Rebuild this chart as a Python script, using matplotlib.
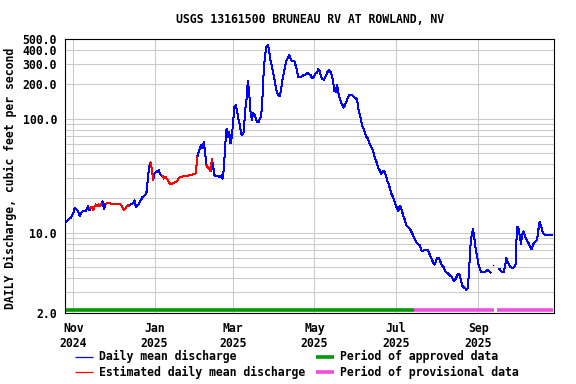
import numpy as np
import pandas as pd
import matplotlib
matplotlib.use('Agg')
import matplotlib.pyplot as plt
import matplotlib.transforms as mtransforms
from matplotlib.lines import Line2D

# Datos (caudal medio diario, cfs), desde 2024-10-26
start_date = '2024-10-26'
discharge = [
    12.2, 12.6, 13.0, 13.3, 13.5, 14.2, 14.8, 16.5, 16.2, 15.9,
    15.0, 14.0, 15.0, 15.4, 15.4, 15.4, 16.0, 17.1, 15.7, 16.5,
    17.0, 15.9, 17.0, 17.7, 17.1, 17.7, 17.1, 17.9, 18.9, 16.0,
    17.8, 18.0, 18.4, 18.2, 18.0, 18.0, 18.0, 18.0, 18.0, 18.0,
    18.0, 18.0, 17.4, 16.5, 15.9, 16.3, 17.0, 17.4, 17.2, 17.7,
    17.8, 18.4, 19.2, 16.8, 17.4, 17.7, 18.6, 19.5, 20.6, 21.0,
    21.5, 22.8, 30.0, 38.4, 41.4, 36.0, 29.0, 33.0, 34.0, 34.5,
    35.4, 32.8, 32.0, 31.5, 29.9, 31.0, 29.9, 28.9, 27.6, 26.5,
    27.0, 27.2, 27.6, 28.0, 28.3, 29.9, 31.0, 31.0, 31.2, 31.3,
    31.3, 31.5, 31.7, 32.0, 32.0, 32.3, 32.5, 32.8, 33.1, 46.0,
    51.0, 55.0, 58.7, 55.0, 63.0, 50.0, 39.2, 37.1, 36.6, 34.7,
    44.3, 37.8, 32.0, 31.3, 31.8, 31.3, 30.9, 31.8, 29.9, 36.0,
    58.7, 81.5, 69.5, 76.9, 60.8, 70.0, 95.0, 127.9, 132.4, 115.0,
    97.6, 88.1, 73.0, 72.5, 76.9, 120.0, 146.6, 215.0, 167.8, 115.0,
    97.6, 111.8, 108.0, 100.0, 94.2, 93.0, 100.0, 104.4, 156.6, 270.0,
    365.0, 430.0, 445.0, 395.0, 322.5, 291.7, 255.0, 219.6, 190.0, 167.8,
    162.2, 156.6, 180.0, 219.6, 251.6, 290.0, 322.5, 341.6, 359.7, 340.0,
    318.0, 322.0, 318.0, 290.0, 260.0, 230.0, 230.0, 233.0, 236.0, 243.0,
    243.0, 247.0, 251.6, 245.0, 243.0, 227.5, 230.0, 240.0, 250.0, 255.0,
    272.7, 260.0, 232.0, 222.0, 219.6, 230.0, 243.0, 260.0, 269.0, 258.0,
    243.0, 212.0, 175.0, 173.0, 198.6, 167.8, 151.7, 137.0, 132.4, 125.3,
    132.0, 141.6, 151.7, 159.9, 162.0, 162.0, 158.0, 153.4, 151.7, 146.6,
    122.0, 109.6, 96.0, 86.0, 81.2, 74.0, 69.5, 67.3, 62.0, 58.7,
    55.6, 52.0, 46.8, 43.4, 40.5, 36.6, 35.4, 33.0, 34.2, 34.9,
    33.8, 30.5, 27.9, 26.1, 23.5, 21.6, 20.6, 18.9, 17.4, 16.5,
    15.4, 17.2, 16.5, 15.0, 13.8, 12.8, 11.6, 11.3, 11.0, 10.6,
    10.1, 9.5, 9.0, 8.5, 8.1, 7.9, 7.8, 7.1, 6.9, 7.0,
    7.0, 7.0, 7.1, 6.7, 6.2, 5.9, 5.5, 5.26, 5.5, 6.0,
    6.05, 5.8, 5.4, 5.15, 4.98, 4.6, 4.5, 4.45, 4.3, 4.2,
    4.12, 3.86, 3.8, 3.95, 4.2, 4.35, 4.3, 3.8, 3.44, 3.32,
    3.28, 3.16, 3.27, 4.5, 7.5, 9.5, 10.8, 9.0, 7.2, 6.3,
    5.3, 4.9, 4.5, 4.5, 4.5, 4.55, 4.65, 4.7, 4.6, 4.5,
    np.nan, 5.26, np.nan, np.nan, np.nan, np.nan, 4.8, 4.6, 4.5, 4.5,
    5.0, 5.97, 5.6, 5.2, 5.05, 4.98, 4.9, 5.05, 5.3, 11.2,
    11.3, 9.5, 8.0, 9.7, 10.3, 9.3, 8.8, 8.4, 8.0, 7.5,
    7.2, 7.8, 8.2, 8.4, 8.6, 10.5, 12.4, 11.6, 10.3, 9.8,
    9.5, 9.5, 9.6, 9.5, 9.5, 9.5,
]

# Periodos con valores estimados (rojo)
estimated_periods = [
    ('2024-11-14', '2024-11-22'),
    ('2024-11-26', '2024-12-13'),
    ('2024-12-29', '2024-12-31'),
    ('2025-01-07', '2025-01-11'),
    ('2025-01-12', '2025-02-02'),
    ('2025-02-09', '2025-02-13'),
]

approved_periods = [('2024-10-26', '2025-07-15')]
provisional_periods = [('2025-07-15', '2025-09-13'), ('2025-09-15', '2025-10-27')]

x_ticks = ['2024-11-01', '2025-01-01', '2025-03-01', '2025-05-01', '2025-07-01', '2025-09-01']
x_labels = ['Nov\n2024', 'Jan\n2025', 'Mar\n2025', 'May\n2025', 'Jul\n2025', 'Sep\n2025']
y_labeled = [2.0, 10.0, 100.0, 200.0, 300.0, 400.0, 500.0]
y_minor = [3, 4, 5, 6, 7, 8, 9, 20, 30, 40, 50, 60, 70, 80, 90]

fuente = dict(family='DejaVu Sans Mono', weight='bold', size=8.3)

fechas = pd.date_range(start_date, periods=len(discharge), freq='D')
serie = pd.Series(discharge, index=fechas)

# Serie estimada
estimada = pd.Series(np.nan, index=fechas)
for ini, fin in estimated_periods:
    estimada[ini:fin] = serie[ini:fin]

# Puntos aislados (sin vecinos)
prev_nan = serie.shift(1).isna()
next_nan = serie.shift(-1).isna()
aislados = serie[serie.notna() & prev_nan & next_nan]

fig = plt.figure(figsize=(5.76, 3.84), dpi=100)
W, H = 576, 384
ax = fig.add_axes([65.3 / W, 1 - 312.5 / H, (554 - 65.3) / W, (312.5 - 39) / H])

ax.plot(serie.index, serie.values, color='#0000ff', lw=0.72, antialiased=False)
ax.plot(estimada.index, estimada.values, color='#ff0000', lw=0.72, antialiased=False)
ax.plot(aislados.index, aislados.values, 's', color='#0000ff', ms=1.0, mew=0)

# Barras de periodo aprobado / provisional
trans = mtransforms.blended_transform_factory(ax.transData, ax.transAxes)
for ini, fin in approved_periods:
    ax.plot([pd.Timestamp(ini), pd.Timestamp(fin)], [0.008, 0.008], color='#009900',
            lw=2.6, solid_capstyle='butt', transform=trans, clip_on=False)
for ini, fin in provisional_periods:
    ax.plot([pd.Timestamp(ini), pd.Timestamp(fin)], [0.008, 0.008], color='#ee4ee0',
            lw=2.6, solid_capstyle='butt', transform=trans, clip_on=False)

ax.set_yscale('log')
ax.set_ylim(2, 500)
ax.set_xlim(pd.Timestamp(start_date), pd.Timestamp(start_date) + pd.Timedelta(days=366.8))

ax.set_yticks(y_labeled)
ax.set_yticklabels(['%.1f' % v for v in y_labeled])
ax.set_yticks(y_minor, minor=True)
ax.yaxis.set_minor_formatter(plt.NullFormatter())
ax.set_xticks(pd.to_datetime(x_ticks))
ax.set_xticklabels(x_labels)

ax.grid(True, which='both', color='#cccccc', lw=0.8)
ax.tick_params(which='both', length=0)
ax.tick_params(axis='y', pad=6)
ax.tick_params(axis='x', pad=7)
for lab in ax.get_xticklabels() + ax.get_yticklabels():
    lab.set_fontproperties(fuente)
for s in ax.spines.values():
    s.set_linewidth(0.8)
    s.set_color('black')

ax.set_ylabel('DAILY Discharge, cubic feet per second', **fuente)
ax.yaxis.set_label_coords(-0.099, 0.49)

fig.text((65.3 + 554) / 2 / W, 1 - 19.5 / H, 'USGS 13161500 BRUNEAU RV AT ROWLAND, NV',
         ha='center', va='center', **fuente)

# Leyenda manual
def item(x0, y0, color, lw, texto):
    fig.add_artist(Line2D([x0 / W, (x0 + 18) / W], [1 - y0 / H, 1 - y0 / H],
                          transform=fig.transFigure, color=color, lw=lw, solid_capstyle='butt'))
    fig.text((x0 + 23.7) / W, 1 - y0 / H, texto, ha='left', va='center', **fuente)

item(75, 356.5, '#0000ff', 0.9, 'Daily mean discharge')
item(75, 372.3, '#ff0000', 0.9, 'Estimated daily mean discharge')
item(316, 356.5, '#009900', 2.6, 'Period of approved data')
item(316, 372.3, '#ee4ee0', 2.6, 'Period of provisional data')

fig.savefig('out.png', dpi=100)
